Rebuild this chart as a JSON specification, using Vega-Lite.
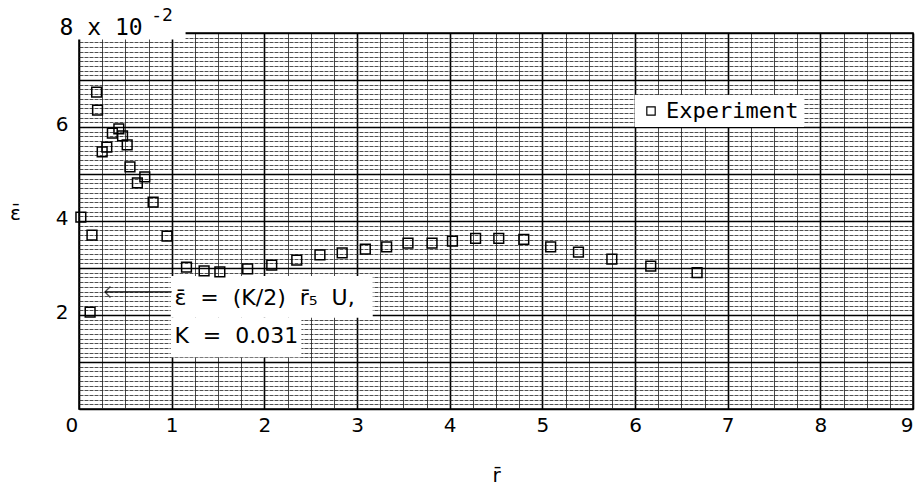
{
  "$schema": "https://vega.github.io/schema/vega-lite/v6.json",
  "width": 834,
  "height": 376,
  "autosize": "none",
  "padding": {"left": 79, "top": 33, "right": 4, "bottom": 80},
  "background": "white",
  "config": {
    "view": {"stroke": "black", "strokeWidth": 1.5},
    "font": "DejaVu Sans"
  },
  "datasets": {
    "points": [
      {"x": 0.19, "y": 6.74, "series": "Experiment"},
      {"x": 0.20, "y": 6.36, "series": "Experiment"},
      {"x": 0.36, "y": 5.87, "series": "Experiment"},
      {"x": 0.43, "y": 5.96, "series": "Experiment"},
      {"x": 0.47, "y": 5.81, "series": "Experiment"},
      {"x": 0.52, "y": 5.62, "series": "Experiment"},
      {"x": 0.30, "y": 5.57, "series": "Experiment"},
      {"x": 0.25, "y": 5.47, "series": "Experiment"},
      {"x": 0.55, "y": 5.15, "series": "Experiment"},
      {"x": 0.63, "y": 4.81, "series": "Experiment"},
      {"x": 0.71, "y": 4.94, "series": "Experiment"},
      {"x": 0.80, "y": 4.40, "series": "Experiment"},
      {"x": 0.02, "y": 4.08, "series": "Experiment"},
      {"x": 0.14, "y": 3.70, "series": "Experiment"},
      {"x": 0.95, "y": 3.68, "series": "Experiment"},
      {"x": 1.16, "y": 3.02, "series": "Experiment"},
      {"x": 1.35, "y": 2.94, "series": "Experiment"},
      {"x": 1.52, "y": 2.92, "series": "Experiment"},
      {"x": 1.82, "y": 2.98, "series": "Experiment"},
      {"x": 2.08, "y": 3.06, "series": "Experiment"},
      {"x": 2.35, "y": 3.17, "series": "Experiment"},
      {"x": 2.60, "y": 3.28, "series": "Experiment"},
      {"x": 2.84, "y": 3.32, "series": "Experiment"},
      {"x": 3.09, "y": 3.40, "series": "Experiment"},
      {"x": 3.32, "y": 3.45, "series": "Experiment"},
      {"x": 3.55, "y": 3.53, "series": "Experiment"},
      {"x": 3.81, "y": 3.53, "series": "Experiment"},
      {"x": 4.03, "y": 3.57, "series": "Experiment"},
      {"x": 4.28, "y": 3.63, "series": "Experiment"},
      {"x": 4.53, "y": 3.63, "series": "Experiment"},
      {"x": 4.80, "y": 3.61, "series": "Experiment"},
      {"x": 5.09, "y": 3.45, "series": "Experiment"},
      {"x": 5.39, "y": 3.34, "series": "Experiment"},
      {"x": 5.75, "y": 3.19, "series": "Experiment"},
      {"x": 6.17, "y": 3.04, "series": "Experiment"},
      {"x": 6.67, "y": 2.90, "series": "Experiment"},
      {"x": 0.12, "y": 2.06, "series": "Experiment"}
    ],
    "boxes": [
      {"x": 0.99, "x2": 3.17, "y": 2.83, "y2": 1.94},
      {"x": 0.99, "x2": 2.40, "y": 1.94, "y2": 1.10},
      {"x": -0.25, "x2": 1.15, "y": 7.86, "y2": 8.7}
    ],
    "notes": [
      {"x": 1.03, "y": 2.36, "label": "ε̄\u00a0 =\u00a0 (K/2)\u00a0 r̄₅\u00a0 U,"},
      {"x": 1.03, "y": 1.56, "label": "K\u00a0 =\u00a0 0.031"}
    ],
    "scale_note": [
      {"x": -0.21, "y": 8.1, "label": "8 x 10"}
    ],
    "scale_exp": [
      {"x": 0.78, "y": 8.36, "label": "-2"}
    ],
    "arrow": [
      {"x": 0.28, "x2": 1.0, "y": 2.49}
    ]
  },
  "encoding": {
    "x": {
      "field": "x",
      "type": "quantitative",
      "scale": {"domain": [0, 9], "nice": false, "zero": false},
      "axis": {
        "title": "r̄",
        "titleFontSize": 20,
        "titleFontWeight": "normal",
        "titleY": 66,
        "titleBaseline": "middle",
        "values": [0,0.25,0.5,0.75,1,1.25,1.5,1.75,2,2.25,2.5,2.75,3,3.25,3.5,3.75,4,4.25,4.5,4.75,5,5.25,5.5,5.75,6,6.25,6.5,6.75,7,7.25,7.5,7.75,8,8.25,8.5,8.75,9],
        "labelExpr": "datum.value % 1 === 0 ? format(datum.value, 'd') : ''",
        "labelOverlap": false,
        "labelFontSize": 20,
        "labelColor": "black",
        "labelPadding": 6,
        "labelOffset": {"condition": {"test": "datum.value === 0", "value": -14}, "value": 0},
        "ticks": false,
        "domain": false,
        "grid": true,
        "gridColor": {"condition": {"test": "datum.value % 1 === 0", "value": "#000000"}, "value": "#333333"},
        "gridWidth": {"condition": {"test": "datum.value % 1 === 0", "value": 1.6}, "value": 0.9},
        "gridOpacity": 1
      }
    },
    "y": {
      "field": "y",
      "type": "quantitative",
      "scale": {"domain": [0, 8], "nice": false, "zero": false},
      "axis": {
        "title": "ε̄",
        "titleAngle": 0,
        "titleFontSize": 20,
        "titleFontWeight": "normal",
        "titleX": -64,
        "titleY": 180,
        "titleAlign": "center",
        "titleBaseline": "middle",
        "values": [0,0.1,0.2,0.3,0.4,0.5,0.6,0.7,0.8,0.9,1,1.1,1.2,1.3,1.4,1.5,1.6,1.7,1.8,1.9,2,2.1,2.2,2.3,2.4,2.5,2.6,2.7,2.8,2.9,3,3.1,3.2,3.3,3.4,3.5,3.6,3.7,3.8,3.9,4,4.1,4.2,4.3,4.4,4.5,4.6,4.7,4.8,4.9,5,5.1,5.2,5.3,5.4,5.5,5.6,5.7,5.8,5.9,6,6.1,6.2,6.3,6.4,6.5,6.6,6.7,6.8,6.9,7,7.1,7.2,7.3,7.4,7.5,7.6,7.7,7.8,7.9,8],
        "labelExpr": "(datum.value === 2 || datum.value === 4 || datum.value === 6) ? format(datum.value, 'd') : ''",
        "labelOverlap": false,
        "labelFontSize": 20,
        "labelColor": "black",
        "labelPadding": 11,
        "labelBaseline": "middle",
        "labelOffset": -3,
        "ticks": false,
        "domain": false,
        "grid": true,
        "gridColor": {"condition": {"test": "datum.value % 1 === 0", "value": "#000000"}, "value": "#222222"},
        "gridWidth": {"condition": {"test": "datum.value % 1 === 0", "value": 1.6}, "value": 0.8},
        "gridDash": {"condition": {"test": "datum.value % 1 === 0", "value": []}, "value": [4, 1]},
        "gridOpacity": 1
      }
    }
  },
  "layer": [
    {
      "data": {"name": "boxes"},
      "mark": {"type": "rect", "fill": "white", "stroke": null, "clip": false},
      "encoding": {
        "x2": {"field": "x2"},
        "y2": {"field": "y2"}
      }
    },
    {
      "data": {"name": "arrow"},
      "mark": {"type": "rule", "stroke": "black", "strokeWidth": 1.3},
      "encoding": {
        "x2": {"field": "x2"}
      }
    },
    {
      "data": {"name": "arrow"},
      "mark": {"type": "point", "shape": "M1,-1L0,0L1,1", "filled": false, "stroke": "black", "strokeWidth": 1.3, "size": 120}
    },
    {
      "data": {"name": "points"},
      "mark": {"type": "point", "filled": false, "stroke": "black", "strokeWidth": 1.5, "size": 95, "opacity": 1},
      "encoding": {
        "shape": {
          "field": "series",
          "type": "nominal",
          "scale": {"range": ["square"]},
          "legend": {
            "title": null,
            "orient": "none",
            "legendX": 556,
            "legendY": 62,
            "fillColor": "white",
            "padding": 5,
            "labelFontSize": 22,
            "labelFont": "DejaVu Sans Mono",
            "labelColor": "black",
            "symbolSize": 70,
            "symbolStrokeColor": "black",
            "symbolStrokeWidth": 1.2,
            "symbolFillColor": "white",
            "labelLimit": 300
          }
        }
      }
    },
    {
      "data": {"name": "notes"},
      "mark": {"type": "text", "align": "left", "baseline": "middle", "font": "DejaVu Sans", "fontSize": 22, "color": "black"},
      "encoding": {"text": {"field": "label"}}
    },
    {
      "data": {"name": "scale_note"},
      "mark": {"type": "text", "align": "left", "baseline": "middle", "font": "DejaVu Sans Mono", "fontSize": 23, "color": "black"},
      "encoding": {"text": {"field": "label"}}
    },
    {
      "data": {"name": "scale_exp"},
      "mark": {"type": "text", "align": "left", "baseline": "middle", "font": "DejaVu Sans Mono", "fontSize": 18, "color": "black"},
      "encoding": {"text": {"field": "label"}}
    }
  ]
}
